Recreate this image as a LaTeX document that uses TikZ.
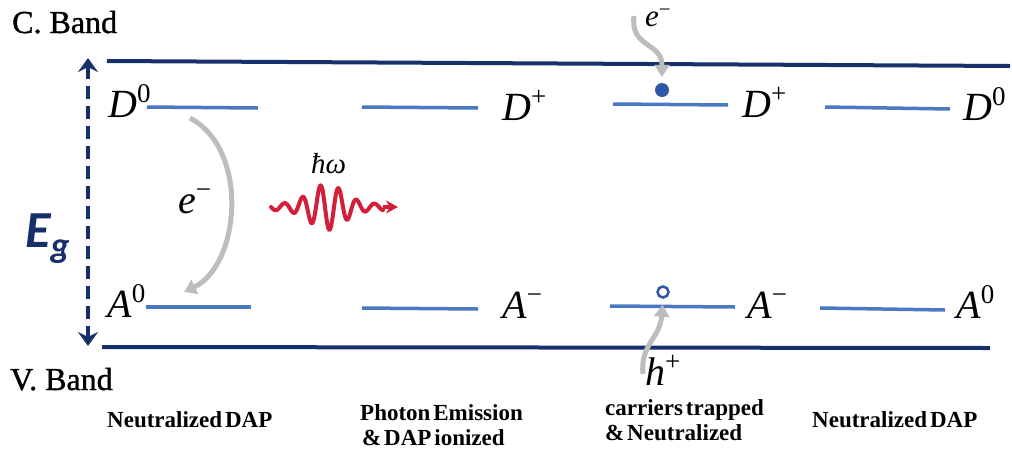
\documentclass[tikz,border=0pt]{standalone}
\usepackage{fontspec}
\setmainfont{Liberation Serif}
\newfontfamily\egfont{Carlito}
\newfontfamily\bandfont[FakeBold=1.2]{Liberation Serif}
\newfontfamily\capfont[WordSpace=0.5]{Liberation Serif}
\usetikzlibrary{arrows.meta}
\definecolor{navy}{HTML}{17306A}
\definecolor{lvlblue}{HTML}{4A78C2}
\definecolor{dotblue}{HTML}{2E58A6}
\definecolor{arrgray}{HTML}{BDBDBD}
\definecolor{wavered}{HTML}{D41F3A}
\newcommand\lvl[2]{\textit{#1}\raisebox{15pt}{\fontsize{27}{27}\selectfont #2}}
\newcommand\lvlsmall[2]{\textit{#1}\raisebox{10pt}{\fontsize{21}{21}\selectfont #2}}
\begin{document}
\begin{tikzpicture}[x=1pt,y=-1pt,
 band/.style={draw=navy, line width=4pt},
 level/.style={draw=lvlblue, line width=3.5pt},
 lab/.style={anchor=base west, inner sep=0pt, font=\fontsize{40}{44}\selectfont},
 caption/.style={anchor=base west, inner sep=0pt, font=\capfont\fontsize{23}{26}\selectfont\bfseries},
 bandlab/.style={anchor=base west, inner sep=0pt, font=\bandfont\fontsize{32}{36}\selectfont},
 carrier/.style={draw=arrgray, line width=5pt, -{Triangle[length=12pt,width=15pt]}},
]
\useasboundingbox[fill=white] (0,0) rectangle (1012,456);
% bands
\coordinate (cb1) at (107,61); \coordinate (cb2) at (1010,66);
\coordinate (vb1) at (102,347); \coordinate (vb2) at (990,348);
\draw[band] (cb1) -- (cb2);
\draw[band] (vb1) -- (vb2);
\node[bandlab] (cband) at (12,33) {C. Band};
\node[bandlab] (vband) at (10,390) {V. Band};
% band gap arrow
\coordinate (egt) at (88,58); \coordinate (egb) at (88,346);
\draw[navy, line width=4pt, dash pattern=on 13pt off 7pt,
  {Stealth[length=14pt,width=20pt,inset=5pt]}-{Stealth[length=14pt,width=20pt,inset=5pt]}] (egt) -- (egb);
\node[anchor=base west, inner sep=0pt, text=navy, font=\egfont\fontsize{52}{56}\selectfont\bfseries\itshape] (eg) at (25,247) {E\raisebox{-10pt}{\fontsize{36}{36}\selectfont g}};
% levels
\coordinate (d1a) at (147,107); \coordinate (d1b) at (258,108);
\coordinate (d2a) at (362,107); \coordinate (d2b) at (478,108);
\coordinate (d3a) at (613,104); \coordinate (d3b) at (728,105);
\coordinate (d4a) at (825,107); \coordinate (d4b) at (950,109);
\coordinate (a1a) at (146,307); \coordinate (a1b) at (251,307);
\coordinate (a2a) at (362,308); \coordinate (a2b) at (478,309);
\coordinate (a3a) at (610,306); \coordinate (a3b) at (735,307);
\coordinate (a4a) at (820,308); \coordinate (a4b) at (945,310);
\foreach \p in {d1,d2,d3,d4,a1,a2,a3,a4} \draw[level] (\p a) -- (\p b);
% level labels
\node[lab] (D1) at (108,117) {\lvl{D}{0}};
\node[lab] (A1) at (107,317) {\lvl{A}{0}};
\node[lab] (D2) at (502,120) {\lvl{D}{+}};
\node[lab] (A2) at (502,318) {\lvl{A}{−}};
\node[lab] (D3) at (742,117) {\lvl{D}{+}};
\node[lab] (A3) at (747,318) {\lvl{A}{−}};
\node[lab] (D4) at (963,120) {\lvl{D}{0}};
\node[lab] (A4) at (956,318) {\lvl{A}{0}};
% column 1 transition
\coordinate (t1s) at (190,118); \coordinate (t1e) at (184,292);
\draw[carrier] (t1s) .. controls (250,150) and (240,265) .. (t1e);
\node[lab] (e1) at (178,213) {\lvl{e}{−}};
% photon
\node[anchor=base west, inner sep=0pt, font=\fontsize{29}{32}\selectfont] (hw) at (311,173) {\textit{ħω}};
\coordinate (ws) at (271,207); \coordinate (we) at (398,207);
\draw[wavered, line width=4pt, line join=round, line cap=round] plot[domain=0:112, samples=300, smooth]
  ({271+\x},{207+(3+20*exp(0-((\x-56)/24)^2))*sin(\x*20)});
\draw[wavered, line width=4pt, -{Stealth[length=12pt,width=13pt]}] (383,207) -- (we);
% column 3 carriers
\node[circle, fill=dotblue, minimum size=14pt, inner sep=0pt] (el) at (662,90) {};
\node[circle, draw=dotblue, fill=white, line width=2.5pt, minimum size=11pt, inner sep=0pt] (ho) at (663,292) {};
\coordinate (es) at (634,16);
\draw[carrier, shorten >=6pt] (es) .. controls (630,48) and (662,42) .. (el.north);
\node[anchor=base west, inner sep=0pt, font=\fontsize{31}{34}\selectfont] (e3) at (645,26) {\lvlsmall{e}{−}};
\coordinate (hs) at (643,374);
\draw[carrier, shorten >=6pt] (hs) .. controls (640,345) and (660,338) .. (ho.south);
\node[lab] (h3) at (645,385) {\lvl{h}{+}};
% captions
\node[caption] (c1) at (107,427) {Neutralized DAP};
\node[caption] (c2a) at (360,420) {Photon Emission};
\node[caption] (c2b) at (362,445) {\& DAP ionized};
\node[caption] (c3a) at (605,415) {carriers trapped};
\node[caption] (c3b) at (605,440) {\& Neutralized};
\node[caption] (c4) at (812,427) {Neutralized DAP};
\end{tikzpicture}
\end{document}
